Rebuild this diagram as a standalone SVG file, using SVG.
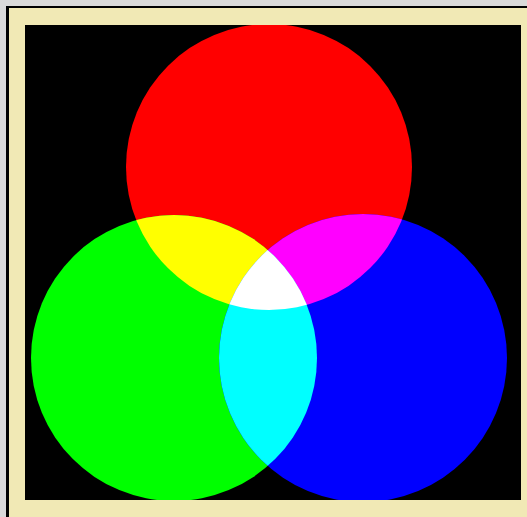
<svg xmlns="http://www.w3.org/2000/svg" width="527" height="517" viewBox="0 0 527 517">
  <defs>
    <clipPath id="panel"><rect x="25" y="25" width="496" height="475"/></clipPath>
    <clipPath id="cr"><circle cx="269" cy="167" r="143"/></clipPath>
    <clipPath id="cg"><circle cx="174" cy="358" r="143"/></clipPath>
    <clipPath id="cb"><circle cx="363" cy="358" r="144"/></clipPath>
  </defs>
  <style>
    .edge { stroke: none; }
  </style>
  <rect x="0" y="0" width="527" height="517" fill="#d9d9d9"/>
  <rect x="6" y="6" width="521" height="511" fill="#000000"/>
  <rect x="9" y="8" width="518" height="509" fill="#f1e9b5"/>
  <rect x="25" y="25" width="496" height="475" fill="#000000"/>
  <g clip-path="url(#panel)">
    <g id="red"><circle class="edge" cx="269" cy="167" r="143" fill="#ff0000"/></g>
    <g id="green"><circle class="edge" cx="174" cy="358" r="143" fill="#00ff00"/></g>
    <g id="blue"><circle class="edge" cx="363" cy="358" r="144" fill="#0000ff"/></g>
    <g id="yellow" clip-path="url(#cr)"><circle cx="174" cy="358" r="143" fill="#ffff00"/></g>
    <g id="magenta" clip-path="url(#cr)"><circle cx="363" cy="358" r="144" fill="#ff00ff"/></g>
    <g id="cyan" clip-path="url(#cg)"><circle cx="363" cy="358" r="144" fill="#00ffff"/></g>
    <g id="white" clip-path="url(#cr)"><g clip-path="url(#cg)"><circle cx="363" cy="358" r="144" fill="#ffffff"/></g></g>
  </g>
</svg>
